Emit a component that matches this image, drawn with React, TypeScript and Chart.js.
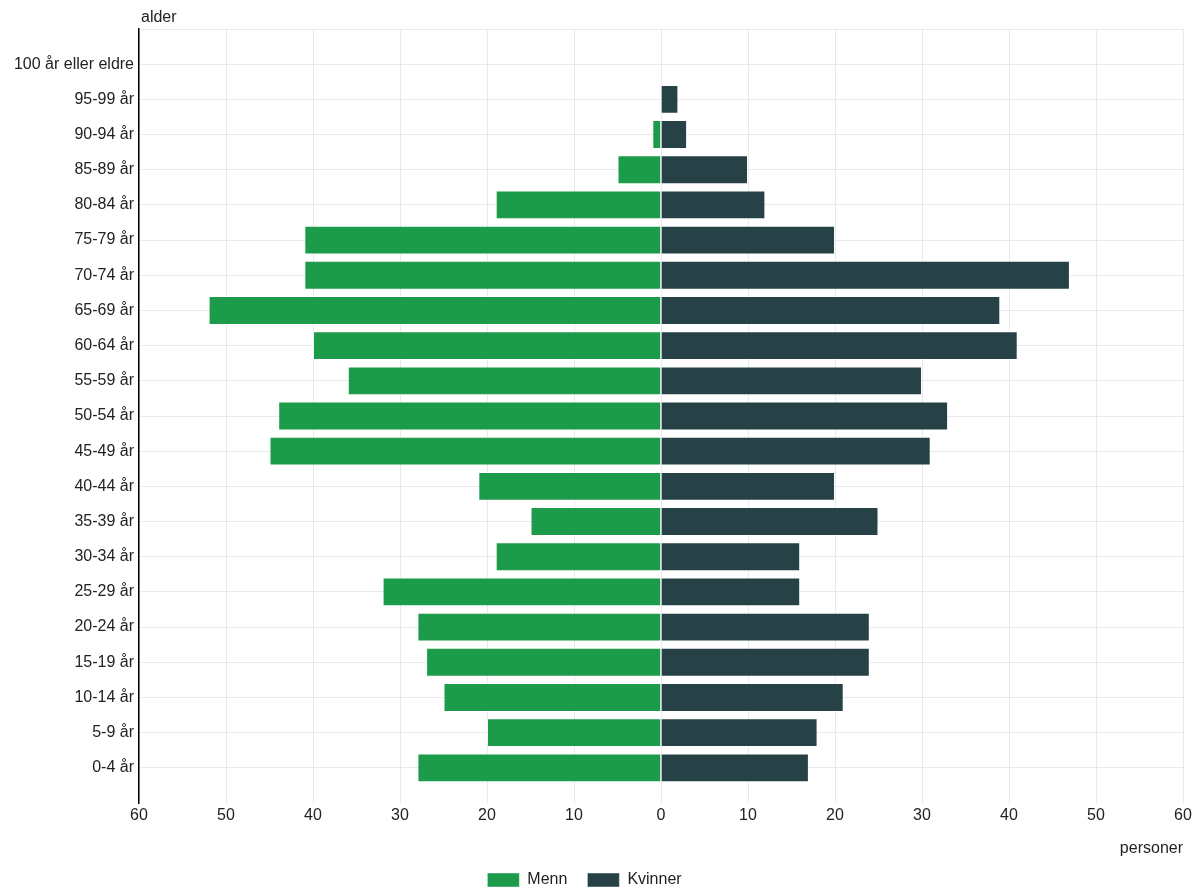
import React, { useEffect, useRef } from 'react';
import { Chart, registerables } from 'chart.js';

Chart.register(...registerables);

const ageGroups = [
  '0-4 år', '5-9 år', '10-14 år', '15-19 år', '20-24 år', '25-29 år', '30-34 år',
  '35-39 år', '40-44 år', '45-49 år', '50-54 år', '55-59 år', '60-64 år', '65-69 år',
  '70-74 år', '75-79 år', '80-84 år', '85-89 år', '90-94 år', '95-99 år', '100 år eller eldre',
];
const menn = [28, 20, 25, 27, 28, 32, 19, 15, 21, 45, 44, 36, 40, 52, 41, 41, 19, 5, 1, 0, 0];
const kvinner = [17, 18, 21, 24, 24, 16, 16, 25, 20, 31, 33, 30, 41, 39, 47, 20, 12, 10, 3, 2, 0];
const xMin = -60;
const xMax = 60;
const xStep = 10;
const yTitle = 'alder';
const xTitle = 'personer';
const seriesNames = ['Menn', 'Kvinner'];
const seriesColors = ['#1c9c4a', '#274247'];

const FONT = 'Arial, "Liberation Sans", Helvetica, sans-serif';
const TEXT = '#222222';
const GRID = '#e6eaea';

export default function App() {
  const ref = useRef<HTMLCanvasElement | null>(null);

  useEffect(() => {
    if (!ref.current) return;
    const labels = ['', ...ageGroups, ''];
    const pad = (arr: number[]) => [null, ...arr, null];

    const extras = {
      id: 'extras',
      afterLayout(chart: any) {
        if (chart.legend) {
          chart.legend.left -= 7;
          chart.legend.right -= 7;
        }
      },
      afterDraw(chart: any) {
        const { ctx, chartArea } = chart;
        ctx.save();
        ctx.font = `16px ${FONT}`;
        ctx.fillStyle = TEXT;
        ctx.textAlign = 'left';
        ctx.textBaseline = 'alphabetic';
        ctx.fillText(yTitle, chartArea.left + 2, 22);
        ctx.restore();
      },
    };

    const chart = new Chart(ref.current, {
      type: 'bar',
      data: {
        labels,
        datasets: [
          {
            label: seriesNames[0],
            data: pad(menn.map((v) => -v)) as any,
            backgroundColor: seriesColors[0],
            borderColor: 'rgba(255,255,255,0.45)',
            borderWidth: 1,
            categoryPercentage: 0.82,
            barPercentage: 1,
          },
          {
            label: seriesNames[1],
            data: pad(kvinner) as any,
            backgroundColor: seriesColors[1],
            borderColor: 'rgba(255,255,255,0.45)',
            borderWidth: 1,
            categoryPercentage: 0.82,
            barPercentage: 1,
          },
        ],
      },
      options: {
        indexAxis: 'y',
        responsive: false,
        animation: false,
        layout: { padding: { top: 29, right: 17, left: 0, bottom: -7 } },
        font: { family: FONT, size: 16 },
        scales: {
          x: {
            type: 'linear',
            stacked: true,
            min: xMin,
            max: xMax,
            ticks: {
              stepSize: xStep,
              color: TEXT,
              padding: 3,
              font: { family: FONT, size: 16 },
              callback: (v: any) => String(Math.abs(Number(v))),
            },
            grid: { color: GRID, drawTicks: false, lineWidth: 1 },
            border: { display: false },
            title: {
              display: true,
              text: xTitle,
              align: 'end',
              color: TEXT,
              font: { family: FONT, size: 16 },
              padding: { top: 0, bottom: -6 },
            },
            afterFit: (scale: any) => {
              scale.height = 49;
            },
          },
          y: {
            type: 'category',
            stacked: true,
            reverse: true,
            offset: false,
            ticks: {
              color: TEXT,
              padding: 5,
              autoSkip: false,
              font: { family: FONT, size: 16 },
            },
            grid: {
              offset: false,
              color: (c: any) => (c.index === 0 ? 'rgba(0,0,0,0)' : GRID),
              drawTicks: false,
              lineWidth: 1,
            },
            border: { display: true, color: '#000000', width: 1.5 },
            afterFit: (scale: any) => {
              scale.width = 139;
            },
          },
        },
        plugins: {
          legend: {
            position: 'bottom',
            labels: {
              boxWidth: 32,
              boxHeight: 14,
              padding: 20,
              color: TEXT,
              font: { family: FONT, size: 16 },
            },
          },
          tooltip: { enabled: false },
        },
      } as any,
      plugins: [extras],
    });

    return () => chart.destroy();
  }, []);

  return (
    <div style={{ position: 'absolute', left: 0, top: 0, width: 1200, height: 891, background: '#fff' }}>
      <canvas ref={ref} width={1200} height={891} />
    </div>
  );
}
